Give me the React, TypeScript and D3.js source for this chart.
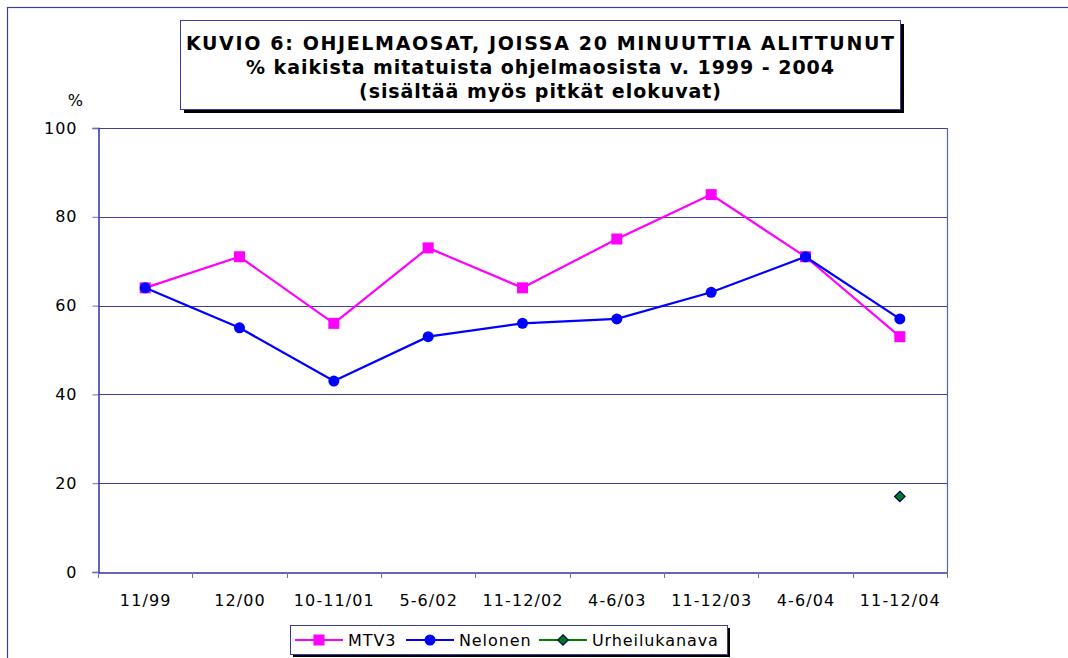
import * as d3 from 'd3';
import React, { useRef, useEffect } from 'react';

const categories = ['11/99', '12/00', '10-11/01', '5-6/02', '11-12/02', '4-6/03', '11-12/03', '4-6/04', '11-12/04'];
const mtv3 = [64, 71, 56, 73, 64, 75, 85, 71, 53];
const nelonen = [64, 55, 43, 53, 56, 57, 63, 71, 57];
const urheilu: (number | null)[] = [null, null, null, null, null, null, null, null, 17];
const yTicks = [0, 20, 40, 60, 80, 100];

const FONT = '"DejaVu Sans", Verdana, sans-serif';

function App() {
    const ref = useRef<SVGSVGElement>(null);

    useEffect(() => {
        const svg = d3.select(ref.current);
        svg.selectAll('*').remove();
        draw(svg);
    }, []);

    const draw = (svg: any) => {
        const left = 98, right = 947, top = 128, bottom = 572;

        const x = d3.scaleBand().domain(categories).range([left, right]);
        const y = d3.scaleLinear().domain([0, 100]).range([bottom, top]);

        // outer frame
        svg.append('rect')
            .attr('x', 7.5).attr('y', 7.5)
            .attr('width', 1080).attr('height', 680)
            .attr('fill', 'white')
            .attr('stroke', '#3c3ca0')
            .attr('stroke-width', 1.2);

        // gridlines
        svg.append('g').selectAll('line')
            .data(yTicks.filter(d => d > 0))
            .enter().append('line')
            .attr('x1', left).attr('x2', right)
            .attr('y1', (d: number) => Math.round(y(d)) + 0.5)
            .attr('y2', (d: number) => Math.round(y(d)) + 0.5)
            .attr('stroke', '#40409c').attr('stroke-width', 1);

        // right plot border
        svg.append('line')
            .attr('x1', right + 0.5).attr('x2', right + 0.5)
            .attr('y1', top).attr('y2', bottom)
            .attr('stroke', '#6060b0').attr('stroke-width', 1.2);

        // y axis
        const yAxis = svg.append('g')
            .attr('transform', `translate(${left + 0.5},0)`)
            .call(d3.axisLeft(y).tickValues(yTicks).tickSize(6).tickPadding(15));
        yAxis.select('.domain').attr('stroke', '#3030a0').attr('stroke-width', 1.5);
        yAxis.selectAll('.tick line').attr('stroke', '#6c6cc0');
        yAxis.selectAll('text')
            .attr('font-family', FONT).attr('font-size', 16).attr('fill', '#000')
            .attr('letter-spacing', 1);

        // x axis
        const xAxis = svg.append('g')
            .attr('transform', `translate(0,${bottom + 0.5})`)
            .call(d3.axisBottom(x).tickSize(0).tickPadding(22));
        xAxis.select('.domain').attr('stroke', '#3030a0').attr('stroke-width', 1.5);
        xAxis.selectAll('text')
            .attr('font-family', FONT).attr('font-size', 16).attr('fill', '#000')
            .attr('letter-spacing', 1.1)
            .attr('dx', 0.5);
        // ticks at category boundaries
        const bounds = d3.range(categories.length + 1).map(i => left + i * x.step());
        svg.append('g').selectAll('line')
            .data(bounds)
            .enter().append('line')
            .attr('x1', (d: number) => Math.round(d) + 0.5)
            .attr('x2', (d: number) => Math.round(d) + 0.5)
            .attr('y1', bottom).attr('y2', bottom + 6)
            .attr('stroke', '#6c6cc0');

        svg.append('text')
            .attr('x', 83).attr('y', 106)
            .attr('text-anchor', 'end')
            .attr('font-family', FONT).attr('font-size', 16)
            .text('%');

        const cx = (i: number) => (x(categories[i]) as number) + x.bandwidth() / 2;

        const line = d3.line<number | null>()
            .defined(d => d !== null)
            .x((d, i) => cx(i))
            .y(d => y(d as number));

        // MTV3
        svg.append('path')
            .datum(mtv3)
            .attr('d', line)
            .attr('fill', 'none').attr('stroke', '#ff00ff').attr('stroke-width', 2.2);
        svg.append('g').selectAll('rect')
            .data(mtv3)
            .enter().append('rect')
            .attr('x', (d: number, i: number) => cx(i) - 5.5)
            .attr('y', (d: number) => y(d) - 5.5)
            .attr('width', 11).attr('height', 11)
            .attr('fill', '#ff00ff');

        // Nelonen
        svg.append('path')
            .datum(nelonen)
            .attr('d', line)
            .attr('fill', 'none').attr('stroke', '#0000ff').attr('stroke-width', 2.2);
        svg.append('g').selectAll('circle')
            .data(nelonen)
            .enter().append('circle')
            .attr('cx', (d: number, i: number) => cx(i))
            .attr('cy', (d: number) => y(d))
            .attr('r', 5.5)
            .attr('fill', '#0000ff');

        // Urheilukanava
        svg.append('g').selectAll('path')
            .data(urheilu.map((d, i) => ({ d, i })).filter(o => o.d !== null))
            .enter().append('path')
            .attr('d', d3.symbol().type(d3.symbolDiamond2).size(70))
            .attr('transform', (o: any) => `translate(${cx(o.i)},${y(o.d)})`)
            .attr('fill', '#007a20').attr('stroke', '#00005a').attr('stroke-width', 1.2);

        // title box
        const tb = { x: 180, y: 20, w: 720, h: 89 };
        svg.append('rect')
            .attr('x', tb.x + 4).attr('y', tb.y + 4)
            .attr('width', tb.w).attr('height', tb.h).attr('fill', '#000');
        svg.append('rect')
            .attr('x', tb.x + 0.5).attr('y', tb.y + 0.5)
            .attr('width', tb.w).attr('height', tb.h)
            .attr('fill', 'white').attr('stroke', '#3c3ca0').attr('stroke-width', 1);
        const titleLines = [
            'KUVIO 6: OHJELMAOSAT, JOISSA 20 MINUUTTIA ALITTUNUT',
            '% kaikista mitatuista ohjelmaosista v. 1999 - 2004',
            '(sisältää myös pitkät elokuvat)'
        ];
        const titleWidths = [708, 588, 362];
        svg.append('g').selectAll('text')
            .data(titleLines)
            .enter().append('text')
            .attr('x', (d: string, i: number) => tb.x + tb.w / 2 - titleWidths[i] / 2)
            .attr('y', (d: string, i: number) => 50 + i * 24)
            .attr('textLength', (d: string, i: number) => titleWidths[i])
            .attr('lengthAdjust', 'spacing')
            .attr('font-family', FONT).attr('font-size', 19).attr('font-weight', 'bold')
            .text((d: string) => d);

        // legend
        const lb = { x: 290, y: 625, w: 437, h: 29 };
        svg.append('rect')
            .attr('x', lb.x + 3).attr('y', lb.y + 3)
            .attr('width', lb.w).attr('height', lb.h).attr('fill', '#000');
        svg.append('rect')
            .attr('x', lb.x + 0.5).attr('y', lb.y + 0.5)
            .attr('width', lb.w).attr('height', lb.h)
            .attr('fill', 'white').attr('stroke', '#3c3ca0').attr('stroke-width', 1);
        const legendItems = [
            { name: 'MTV3', color: '#ff00ff', x: 295, tx: 348, kind: 'square' },
            { name: 'Nelonen', color: '#0000ff', x: 406, tx: 459, kind: 'circle' },
            { name: 'Urheilukanava', color: '#008000', x: 539, tx: 592, kind: 'diamond' }
        ];
        const ly = lb.y + 15;
        legendItems.forEach(it => {
            svg.append('line')
                .attr('x1', it.x).attr('x2', it.x + 48)
                .attr('y1', ly).attr('y2', ly)
                .attr('stroke', it.color).attr('stroke-width', 2.2);
            const mx = it.x + 24;
            if (it.kind === 'square') {
                svg.append('rect').attr('x', mx - 5.5).attr('y', ly - 5.5)
                    .attr('width', 11).attr('height', 11).attr('fill', it.color);
            } else if (it.kind === 'circle') {
                svg.append('circle').attr('cx', mx).attr('cy', ly).attr('r', 5.5).attr('fill', it.color);
            } else {
                svg.append('path')
                    .attr('d', d3.symbol().type(d3.symbolDiamond2).size(70))
                    .attr('transform', `translate(${mx},${ly})`)
                    .attr('fill', '#007a20').attr('stroke', '#00005a').attr('stroke-width', 1.2);
            }
            svg.append('text')
                .attr('x', it.tx).attr('y', ly + 6)
                .attr('font-family', FONT).attr('font-size', 16)
                .attr('letter-spacing', 0.9)
                .text(it.name);
        });
    };

    return (
        <svg ref={ref} width={1068} height={658}
            style={{ position: 'absolute', left: 0, top: 0, display: 'block' }}>
        </svg>
    );
}

export default App;
